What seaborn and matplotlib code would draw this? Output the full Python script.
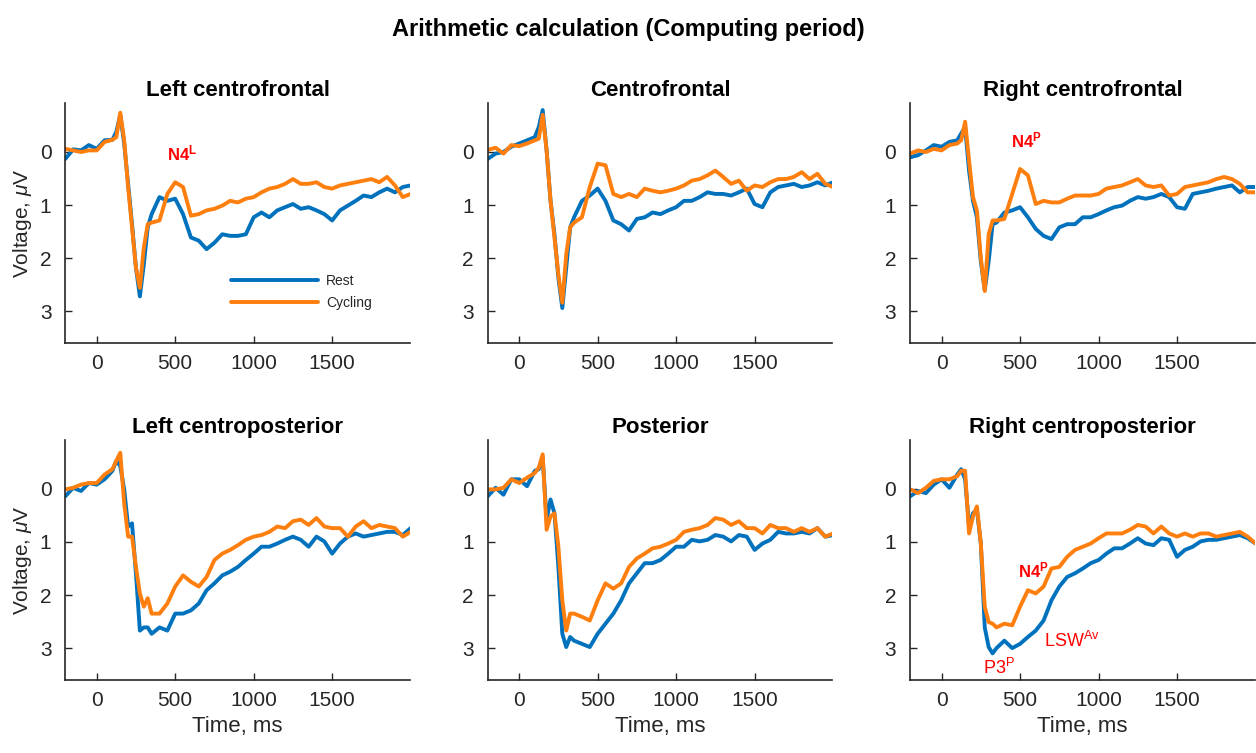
import numpy as np
import seaborn as sns
import matplotlib.pyplot as plt

# time axis (ms), finer around the early peaks
times = [-200, -150, -100, -50, 0, 50, 100, 125, 150, 175, 200, 225, 250, 275, 300, 325, 350,
         400, 450, 500, 550, 600, 650, 700, 750, 800, 850, 900, 950, 1000, 1050, 1100, 1150,
         1200, 1250, 1300, 1350, 1400, 1450, 1500, 1550, 1600, 1650, 1700, 1750, 1800, 1850,
         1900, 1950, 2000]

titles = ['Left centrofrontal', 'Centrofrontal', 'Right centrofrontal',
          'Left centroposterior', 'Posterior', 'Right centroposterior']

# voltages (uV), Rest / Cycling per region
lcf_rest = [0.13, -0.05, -0.03, -0.13, -0.06, -0.22, -0.23, -0.38, -0.70, -0.16, 0.60, 1.36, 2.18, 2.72, 2.12, 1.42, 1.17,
            0.85, 0.92, 0.88, 1.17, 1.61, 1.67, 1.83, 1.71, 1.55, 1.58, 1.58, 1.55, 1.23, 1.14, 1.23, 1.10,
            1.04, 0.98, 1.07, 1.04, 1.10, 1.17, 1.29, 1.10, 1.01, 0.92, 0.82, 0.85, 0.76, 0.69, 0.76, 0.66, 0.63]
lcf_cyc = [-0.06, -0.03, 0.00, -0.03, -0.03, -0.19, -0.23, -0.28, -0.74, -0.22, 0.66, 1.42, 2.18, 2.56, 1.80, 1.36, 1.33,
           1.29, 0.79, 0.57, 0.66, 1.20, 1.17, 1.10, 1.07, 1.01, 0.92, 0.95, 0.88, 0.85, 0.76, 0.69, 0.66,
           0.60, 0.51, 0.60, 0.60, 0.57, 0.66, 0.69, 0.63, 0.60, 0.57, 0.54, 0.51, 0.57, 0.47, 0.63, 0.85, 0.79]

cf_rest = [0.13, 0.03, 0.00, -0.10, -0.16, -0.22, -0.28, -0.47, -0.79, -0.03, 0.92, 1.55, 2.37, 2.94, 2.18, 1.42, 1.23,
           0.92, 0.82, 0.69, 0.92, 1.29, 1.36, 1.48, 1.26, 1.23, 1.14, 1.17, 1.10, 1.04, 0.92, 0.92, 0.85,
           0.76, 0.79, 0.79, 0.82, 0.76, 0.69, 0.98, 1.04, 0.76, 0.66, 0.63, 0.60, 0.66, 0.63, 0.57, 0.63, 0.57]
cf_cyc = [-0.04, -0.08, 0.03, -0.13, -0.11, -0.16, -0.22, -0.25, -0.70, -0.03, 0.92, 1.61, 2.31, 2.84, 1.93, 1.42, 1.33,
          1.23, 0.66, 0.22, 0.25, 0.79, 0.85, 0.79, 0.85, 0.69, 0.73, 0.76, 0.73, 0.69, 0.63, 0.54, 0.51,
          0.44, 0.35, 0.47, 0.60, 0.54, 0.73, 0.63, 0.66, 0.57, 0.51, 0.51, 0.47, 0.38, 0.51, 0.41, 0.60, 0.66]

rcf_rest = [0.10, 0.06, -0.03, -0.13, -0.10, -0.19, -0.22, -0.35, -0.47, 0.35, 0.92, 1.23, 2.06, 2.60, 2.06, 1.36, 1.33,
            1.14, 1.10, 1.04, 1.23, 1.45, 1.58, 1.64, 1.42, 1.36, 1.36, 1.23, 1.23, 1.17, 1.10, 1.04, 1.01,
            0.92, 0.85, 0.88, 0.85, 0.79, 0.85, 1.04, 1.07, 0.79, 0.76, 0.73, 0.69, 0.66, 0.63, 0.76, 0.66, 0.66]
rcf_cyc = [0.03, -0.03, 0.00, -0.06, -0.03, -0.13, -0.16, -0.22, -0.57, 0.16, 0.85, 1.10, 1.99, 2.62, 1.55, 1.29, 1.29,
           1.26, 0.79, 0.32, 0.44, 0.98, 0.92, 0.95, 0.95, 0.88, 0.82, 0.82, 0.82, 0.79, 0.69, 0.66, 0.63,
           0.57, 0.51, 0.63, 0.66, 0.63, 0.82, 0.79, 0.66, 0.63, 0.60, 0.57, 0.51, 0.47, 0.51, 0.60, 0.76, 0.76]

lcp_rest = [0.14, -0.02, 0.04, -0.11, -0.08, -0.18, -0.34, -0.53, -0.43, 0.01, 0.71, 0.65, 1.60, 2.67, 2.61, 2.61, 2.73,
            2.61, 2.67, 2.35, 2.35, 2.29, 2.16, 1.91, 1.78, 1.63, 1.56, 1.47, 1.34, 1.22, 1.09, 1.09, 1.03,
            0.96, 0.90, 0.96, 1.09, 0.90, 0.99, 1.22, 1.03, 0.90, 0.84, 0.90, 0.87, 0.84, 0.81, 0.81, 0.87, 0.74]
lcp_cyc = [0.01, -0.02, -0.08, -0.11, -0.11, -0.27, -0.37, -0.53, -0.68, 0.27, 0.90, 0.90, 1.47, 1.97, 2.22, 2.06, 2.35,
           2.35, 2.16, 1.84, 1.63, 1.75, 1.84, 1.66, 1.34, 1.22, 1.15, 1.06, 0.96, 0.90, 0.87, 0.81, 0.71,
           0.74, 0.61, 0.58, 0.68, 0.55, 0.71, 0.74, 0.74, 0.90, 0.71, 0.61, 0.74, 0.68, 0.71, 0.74, 0.90, 0.81]

post_rest = [0.14, -0.02, 0.11, -0.18, -0.18, -0.05, -0.34, -0.37, -0.59, 0.58, 0.20, 0.46, 1.47, 2.73, 2.98, 2.79, 2.86,
             2.92, 2.98, 2.73, 2.54, 2.35, 2.10, 1.78, 1.59, 1.40, 1.40, 1.34, 1.22, 1.09, 1.09, 0.96, 0.99,
             0.96, 0.87, 0.90, 0.99, 0.87, 0.90, 1.15, 1.03, 0.96, 0.81, 0.84, 0.84, 0.81, 0.84, 0.74, 0.90, 0.87]
post_cyc = [0.01, 0.01, -0.02, -0.18, -0.11, -0.21, -0.30, -0.40, -0.65, 0.77, 0.52, 0.46, 1.09, 2.10, 2.67, 2.35, 2.35,
            2.41, 2.48, 2.10, 1.78, 1.88, 1.78, 1.47, 1.31, 1.22, 1.12, 1.09, 1.03, 0.96, 0.81, 0.77, 0.74,
            0.68, 0.55, 0.58, 0.68, 0.61, 0.74, 0.74, 0.84, 0.68, 0.74, 0.74, 0.81, 0.74, 0.81, 0.74, 0.90, 0.84]

rcp_rest = [0.14, 0.04, 0.08, -0.08, -0.18, -0.02, -0.27, -0.37, -0.18, 0.71, 0.46, 0.39, 1.03, 2.61, 2.98, 3.10, 3.00,
            2.86, 3.00, 2.92, 2.79, 2.67, 2.48, 2.10, 1.84, 1.66, 1.59, 1.50, 1.40, 1.34, 1.22, 1.12, 1.12,
            1.03, 0.93, 1.03, 1.06, 0.93, 0.96, 1.28, 1.15, 1.09, 0.99, 0.96, 0.96, 0.93, 0.90, 0.87, 0.93, 1.03]
rcp_cyc = [0.01, 0.08, -0.02, -0.15, -0.18, -0.18, -0.24, -0.34, -0.34, 0.84, 0.52, 0.33, 1.03, 2.22, 2.51, 2.54, 2.61,
           2.54, 2.57, 2.22, 1.91, 1.97, 1.84, 1.50, 1.47, 1.28, 1.15, 1.09, 1.03, 0.93, 0.84, 0.84, 0.84,
           0.77, 0.68, 0.71, 0.84, 0.71, 0.84, 0.90, 0.84, 0.90, 0.84, 0.84, 0.90, 0.87, 0.84, 0.81, 0.90, 1.03]

rest_all = [lcf_rest, cf_rest, rcf_rest, lcp_rest, post_rest, rcp_rest]
cyc_all = [lcf_cyc, cf_cyc, rcf_cyc, lcp_cyc, post_cyc, rcp_cyc]

BLUE = '#0072BD'
ORANGE = '#FF7F0E'
RED = '#FF0000'

sns.set_style('ticks')
plt.rcParams['font.family'] = ['Liberation Sans', 'DejaVu Sans']
plt.rcParams['mathtext.fontset'] = 'custom'
plt.rcParams['mathtext.rm'] = 'Liberation Sans'
plt.rcParams['mathtext.it'] = 'Liberation Sans:italic'
plt.rcParams['mathtext.bf'] = 'Liberation Sans:bold'

fig, axes = plt.subplots(2, 3, figsize=(12.56, 7.53), dpi=100)
fig.subplots_adjust(left=0.052, right=0.999, top=0.863, bottom=0.097, wspace=0.226, hspace=0.404)

for i, ax in enumerate(axes.flat):
    sns.lineplot(x=times, y=rest_all[i], ax=ax, color=BLUE, lw=2.8, label='Rest')
    sns.lineplot(x=times, y=cyc_all[i], ax=ax, color=ORANGE, lw=2.8, label='Cycling')
    ax.set_xlim(-200, 1995)
    ax.set_ylim(3.6, -0.92)
    ax.set_xticks([0, 500, 1000, 1500])
    ax.set_yticks([0, 1, 2, 3])
    ax.tick_params(direction='in', length=5, width=1, labelsize=15, colors='#262626', pad=8)
    ax.tick_params(axis='y', pad=10)
    for s in ['left', 'bottom']:
        ax.spines[s].set_linewidth(1.2)
        ax.spines[s].set_color('#262626')
    sns.despine(ax=ax)
    ax.set_title(titles[i], fontsize=16, fontweight='bold', pad=5, color='black')
    if i % 3 == 0:
        ax.set_ylabel(r'Voltage, $\mu$V', fontsize=15, color='#262626')
    if i >= 3:
        ax.set_xlabel('Time, ms', fontsize=16, color='#262626')
    if i == 0:
        ax.legend(loc='lower right', bbox_to_anchor=(0.905, 0.115), frameon=False, fontsize=10,
                  handlelength=6.2, labelspacing=0.55, borderaxespad=0, handletextpad=0.6)
    else:
        ax.get_legend().remove()

# component labels
axes[0, 0].text(446, 0.02, r'$\mathbf{N4^{L}}$', color=RED, fontsize=12, va='center')
axes[0, 2].text(443, -0.22, r'$\mathbf{N4^{P}}$', color=RED, fontsize=12, va='center')
axes[1, 2].text(488, 1.53, r'$\mathbf{N4^{P}}$', color=RED, fontsize=12, va='center')
axes[1, 2].text(262, 3.37, r'$\mathrm{P3^{P}}$', color=RED, fontsize=13, va='center')
axes[1, 2].text(650, 2.86, r'$\mathrm{LSW^{Av}}$', color=RED, fontsize=13, va='center')

fig.suptitle('Arithmetic calculation (Computing period)', fontsize=17, fontweight='bold',
             y=0.976, color='black')

fig.savefig('out.png', dpi=100)
